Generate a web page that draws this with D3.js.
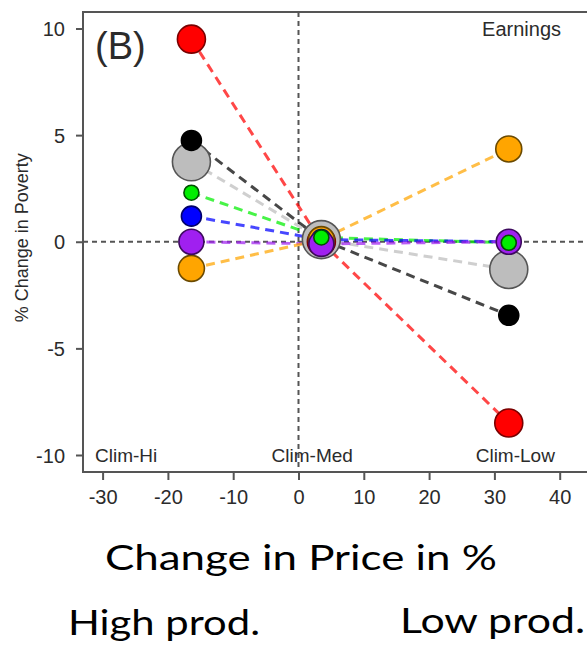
<!DOCTYPE html>
<html>
<head>
<meta charset="utf-8">
<script src="https://cdn.jsdelivr.net/npm/d3@7"></script>
<style>
  html, body { margin: 0; padding: 0; background: #fff; }
  svg { display: block; }
</style>
</head>
<body>
<svg id="chart" width="587" height="654"></svg>
<script>
// ---------------- data ----------------
const scenarios = ["Clim-Hi", "Clim-Med", "Clim-Low"];
const priceChange = [-16.4, 3.5, 32.2];          // % change in price per scenario
const seriesNames = ["gray", "red", "black", "orange", "blue", "purple", "green"];
const seriesColors = ["#bdbdbd", "#ff0000", "#000000", "#ffa500", "#0000ff", "#a020f0", "#00ee00"];
const seriesStroke = ["#555555", "#7a0000", "#000000", "#6b4a00", "#00006b", "#3d0a5e", "#005000"];
const seriesRadius = [19, 14, 10, 13, 10, 12.5, 7.5];
const povertyGray   = [3.75, 0.1, -1.3];
const povertyRed    = [9.5, 0.0, -8.5];
const povertyBlack  = [4.75, 0.1, -3.45];
const povertyOrange = [-1.25, 0.1, 4.35];
const povertyBlue   = [1.2, 0.1, 0.0];
const povertyPurple = [0.0, -0.1, 0.0];
const povertyGreen  = [2.3, 0.2, -0.05];
const seriesValues = [povertyGray, povertyRed, povertyBlack, povertyOrange, povertyBlue, povertyPurple, povertyGreen];
const xTicks = [-30, -20, -10, 0, 10, 20, 30, 40];
const yTicks = [-10, -5, 0, 5, 10];
const scenarioLabelX = [-26.4, 2.1, 33.2];

// ---------------- layout ----------------
const svg = d3.select("#chart");
const box = { left: 83, top: 12, bottom: 472, right: 600 };
const x = d3.scaleLinear().domain([-30, 40]).range([102.6, 559.7]);
const y = d3.scaleLinear().domain([-10, 10]).range([455, 28.5]);
const rFont = "'Liberation Sans', Arial, Helvetica, sans-serif";
const axisCol = "#555";
const textCol = "#2b2b2b";
const fmt = d => String(d);

svg.append("rect").attr("width", 587).attr("height", 654).attr("fill", "#fff");

// reference dashed lines
svg.append("line")
  .attr("x1", box.left).attr("x2", box.right)
  .attr("y1", y(0)).attr("y2", y(0))
  .attr("stroke", axisCol).attr("stroke-width", 2).attr("stroke-dasharray", "5,4");
svg.append("line")
  .attr("x1", x(0)).attr("x2", x(0))
  .attr("y1", box.top).attr("y2", box.bottom)
  .attr("stroke", axisCol).attr("stroke-width", 2).attr("stroke-dasharray", "5,4");

// plot frame (left, top, bottom)
svg.append("path")
  .attr("d", `M${box.right},${box.top}H${box.left}V${box.bottom}H${box.right}`)
  .attr("fill", "none").attr("stroke", axisCol).attr("stroke-width", 2);

// axes
const yAxis = d3.axisLeft(y).tickValues(yTicks).tickSize(7).tickPadding(11).tickFormat(fmt);
const gy = svg.append("g").attr("transform", `translate(${box.left},0)`).call(yAxis);
const xAxis = d3.axisBottom(x).tickValues(xTicks).tickSize(8).tickPadding(10).tickFormat(fmt);
const gx = svg.append("g").attr("transform", `translate(0,${box.bottom})`).call(xAxis);
[gx, gy].forEach(g => {
  g.select(".domain").remove();
  g.selectAll(".tick line").attr("stroke", axisCol).attr("stroke-width", 2);
  g.selectAll(".tick text").attr("fill", textCol).attr("font-family", rFont).attr("font-size", 20);
});
gx.selectAll(".tick text").attr("dy", "0.71em");
gy.selectAll(".tick text").attr("dy", "0.36em");

// y axis title
svg.append("text")
  .attr("transform", `translate(28,${y(0) - 4}) rotate(-90)`)
  .attr("text-anchor", "middle")
  .attr("font-family", rFont).attr("font-size", 18).attr("fill", textCol)
  .text("% Change in Poverty");

// connecting dashed lines
const line = d3.line().x((d, i) => x(priceChange[i])).y(d => y(d));
const lineOrder = [1, 2, 0, 6, 4, 5, 3];
lineOrder.forEach(k => {
  svg.append("path")
    .attr("d", line(seriesValues[k]))
    .attr("fill", "none")
    .attr("stroke", seriesColors[k])
    .attr("stroke-opacity", 0.72)
    .attr("stroke-width", 3)
    .attr("stroke-dasharray", "9,6");
});

// points
seriesNames.forEach((name, k) => {
  svg.append("g").attr("class", "pts-" + name)
    .selectAll("circle")
    .data(seriesValues[k])
    .join("circle")
    .attr("cx", (d, i) => x(priceChange[i]))
    .attr("cy", d => y(d))
    .attr("r", seriesRadius[k])
    .attr("fill", seriesColors[k])
    .attr("stroke", seriesStroke[k])
    .attr("stroke-width", 1.6);
});

// annotations in plot
svg.append("text").attr("x", 95).attr("y", 59)
  .attr("font-family", rFont).attr("font-size", 38).attr("fill", textCol).text("(B)");
svg.append("text").attr("x", 561).attr("y", 36).attr("text-anchor", "end")
  .attr("font-family", rFont).attr("font-size", 20).attr("fill", textCol).text("Earnings");
scenarios.forEach((s, i) => {
  svg.append("text")
    .attr("x", x(scenarioLabelX[i])).attr("y", 462)
    .attr("text-anchor", "middle")
    .attr("font-family", rFont).attr("font-size", 19).attr("fill", textCol)
    .text(s);
});

// slide-style labels below
const cFont = "Lato, 'Open Sans', sans-serif";
svg.append("text").attr("x", 105).attr("y", 570)
  .attr("font-family", cFont).attr("font-size", 35).attr("fill", "#000")
  .attr("textLength", 392).attr("lengthAdjust", "spacingAndGlyphs")
  .text("Change in Price in %");
svg.append("text").attr("x", 68).attr("y", 635)
  .attr("font-family", cFont).attr("font-size", 35).attr("fill", "#000")
  .attr("textLength", 192).attr("lengthAdjust", "spacingAndGlyphs")
  .text("High prod.");
svg.append("text").attr("x", 400).attr("y", 633)
  .attr("font-family", cFont).attr("font-size", 35).attr("fill", "#000")
  .attr("textLength", 185).attr("lengthAdjust", "spacingAndGlyphs")
  .text("Low prod.");
</script>
</body>
</html>
